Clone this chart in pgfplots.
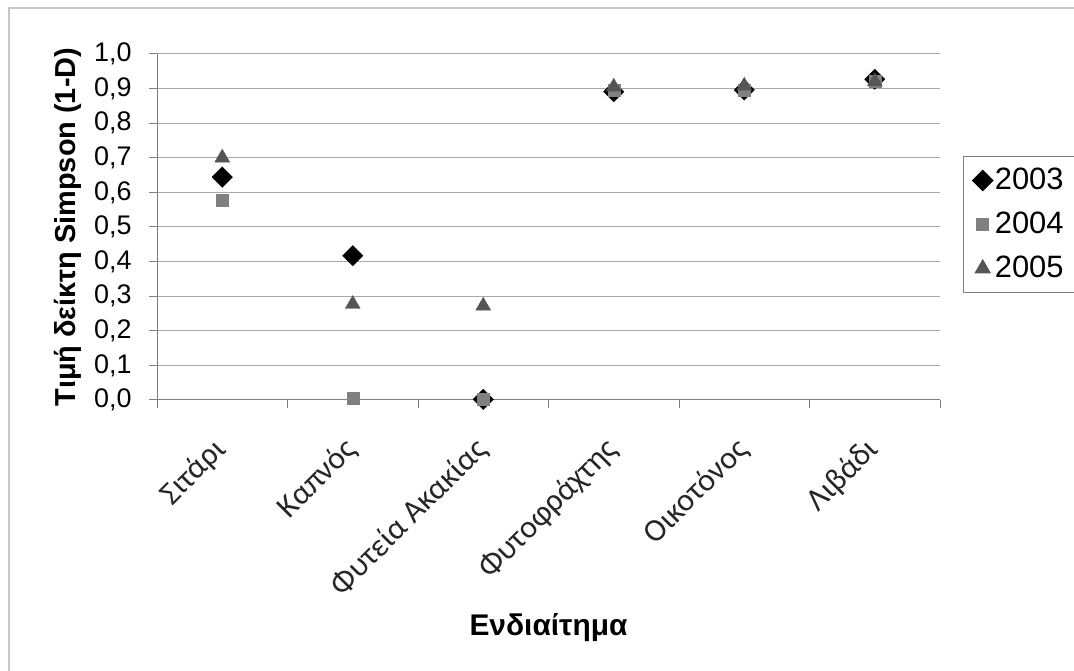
\documentclass[border=0pt]{standalone}
\usepackage{pgfplots}
\pgfplotsset{compat=1.18}
\usepackage{fontspec}
\setmainfont{Liberation Sans}
\newfontfamily\calfont{Carlito}
\definecolor{sqgray}{HTML}{808080}
\definecolor{trgray}{HTML}{555555}
\definecolor{gridgray}{HTML}{A8A8A8}
\definecolor{axgray}{HTML}{808080}
\begin{document}
\begin{tikzpicture}[x=1bp,y=1bp]
\path[use as bounding box] (0,0) rectangle (1074,671);
\draw[gray!45, line width=1.2bp] (9,0) -- (9,663) -- (1074,663);
\begin{axis}[
  at={(157bp,271bp)}, anchor=south west,
  scale only axis, width=783bp, height=346bp,
  xmin=0, xmax=6, ymin=0, ymax=1,
  axis x line*=bottom, axis y line*=left,
  axis line style={draw=axgray, line width=1bp, -},
  xtick={0,1,2,3,4,5,6}, xticklabels={},
  extra x ticks={0.5,1.5,2.5,3.5,4.5,5.5},
  extra x tick labels={Σιτάρι,Καπνός,Φυτεία Ακακίας,Φυτοφράχτης,Οικοτόνος,Λιβάδι},
  extra x tick style={major tick length=0pt, grid=none,
     xticklabel style={font=\calfont\fontsize{32}{37}\selectfont, rotate=45, anchor=east, yshift=-31bp, xshift=-29bp, text=black!85}},
  ytick={0,0.1,...,1.0},
  yticklabel style={font=\fontsize{27}{32}\selectfont, /pgf/number format/assume math mode=true, xshift=-14bp},
  /pgf/number format/.cd, use comma, fixed, zerofill, precision=1, /pgfplots/.cd,
  tick align=outside, major tick length=8bp,
  tick style={draw=axgray, line width=1bp},
  ymajorgrids, grid style={draw=gridgray, line width=1bp},
  ylabel={Τιμή δείκτη Simpson (1-D)},
  every axis y label/.style={at={(axis description cs:-0.114,0.5)}, rotate=90, anchor=center, font=\bfseries\fontsize{29}{33}\selectfont},
  xlabel={Ενδιαίτημα},
  every axis x label/.style={at={(axis description cs:0.5,-0.659)}, anchor=center, font=\bfseries\fontsize{30}{34}\selectfont},
  legend style={at={(1.0294,0.705)}, anchor=north west, draw=gray, line width=1bp,
     font=\fontsize{31}{35}\selectfont, row sep=14bp, inner xsep=9bp, inner ysep=9bp,
     nodes={text height=22bp, text depth=4bp}},
  legend cell align=left,
  clip=false,
]
\addplot[only marks, mark=square*, mark size=7.2bp, mark options={rotate=45, fill=black, draw=black}]
  coordinates {(0.5,0.644) (1.5,0.417) (2.5,0.002) (3.5,0.891) (4.5,0.896) (5.5,0.927)};
\addlegendentry{2003}
\addplot[only marks, mark=square*, mark size=6bp, mark options={fill=sqgray, draw=sqgray}]
  coordinates {(0.5,0.576) (1.5,0.005) (2.5,0.003) (3.5,0.896) (4.5,0.895) (5.5,0.92)};
\addlegendentry{2004}
\addplot[only marks, mark=triangle*, mark size=8.6bp, mark options={fill=trgray, draw=trgray}]
  coordinates {(0.5,0.700) (1.5,0.277) (2.5,0.272) (3.5,0.905) (4.5,0.908) (5.5,0.92)};
\addlegendentry{2005}
\end{axis}
\end{tikzpicture}
\end{document}
